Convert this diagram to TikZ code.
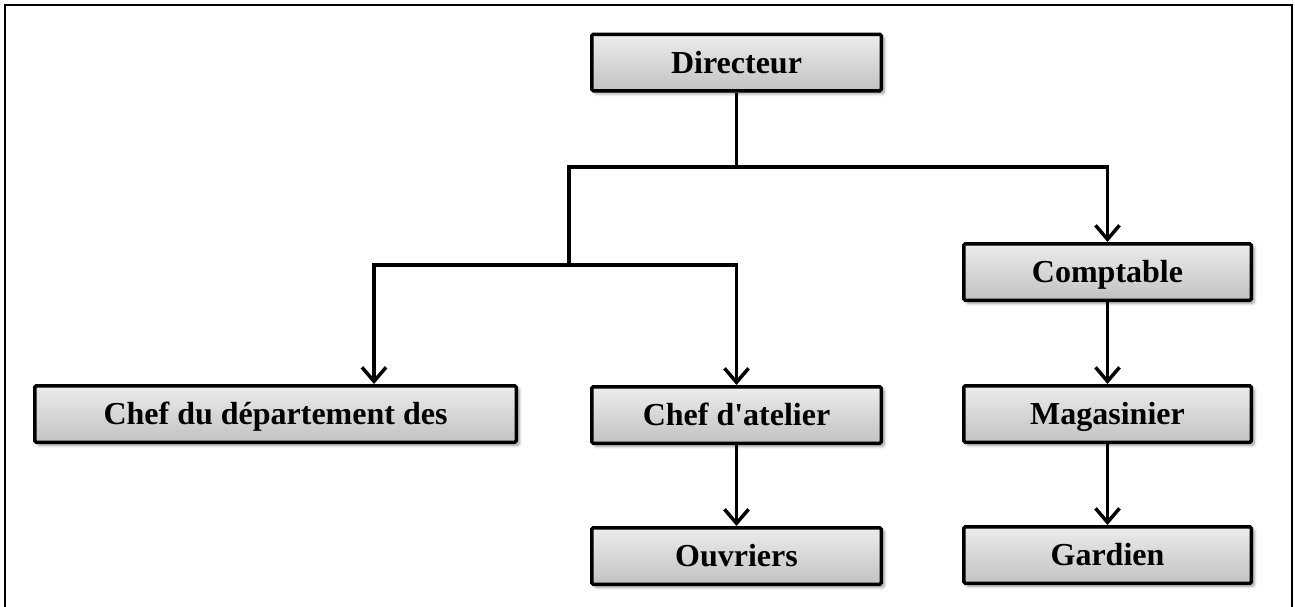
\documentclass[tikz,border=0pt]{standalone}
\usepackage{fontspec}
\setmainfont{Liberation Serif}[Ligatures=TeXOff]
\usetikzlibrary{arrows.meta,shadows.blur,calc}
\definecolor{boxtop}{RGB}{236,236,236}
\definecolor{boxbot}{RGB}{194,194,194}
\tikzset{
  orgbox/.style={draw=black, line width=3.5pt, rounded corners=1.5pt,
    top color=boxtop, bottom color=boxbot,
    blur shadow={shadow xshift=3pt, shadow yshift=-3pt, shadow blur radius=3pt,
      shadow opacity=40, shadow blur steps=6},
    minimum height=56.5pt, inner sep=0pt, text height=21pt, text depth=0pt,
    font=\fontsize{32}{38}\selectfont\bfseries},
  conn/.style={line width=3.5pt, line join=miter},
  arr/.style={conn, -{Straight Barb[length=14pt, width=24pt, line width=3.5pt]}}
}
\begin{document}
\begin{tikzpicture}[x=1pt, y=1pt]
  \useasboundingbox (0,0) rectangle (1295,-606);
  % page frame
  \draw[line width=2.5pt] (5,-612) -- (5,-5) -- (1292,-5) -- (1292,-612);

  % boxes
  \node[orgbox, minimum width=289.5pt] (dir)  at (736.5,-62.5) {Directeur};
  \node[orgbox, minimum width=287.5pt] (comp) at (1107.5,-272) {Comptable};
  \node[orgbox, minimum width=287.5pt] (mag)  at (1107.5,-414) {Magasinier};
  \node[orgbox, minimum width=287.5pt] (gard) at (1107.5,-555) {Gardien};
  \node[orgbox, minimum width=289.5pt] (atel) at (736.5,-415) {Chef d'atelier};
  \node[orgbox, minimum width=289.5pt] (ouv)  at (736.5,-556) {Ouvriers};
  \node[orgbox, minimum width=481.5pt] (dept) at (275.5,-414) {Chef du département des};

  % junction points
  \coordinate (hubL) at (569,-167);
  \coordinate (lowL) at (569,-265);
  \coordinate (brL)  at (374,-265);

  % connectors
  \draw[conn] (dir.south) -- (dir.south |- hubL);
  \draw[arr] (lowL) -- (hubL) -| (comp.north);
  \draw[arr] (lowL) -| (brL |- dept.north);
  \draw[arr] (lowL) -| (atel.north);
  \draw[arr] (atel.south) -- (ouv.north);
  \draw[arr] (comp.south) -- (mag.north);
  \draw[arr] (mag.south) -- (gard.north);
\end{tikzpicture}
\end{document}
